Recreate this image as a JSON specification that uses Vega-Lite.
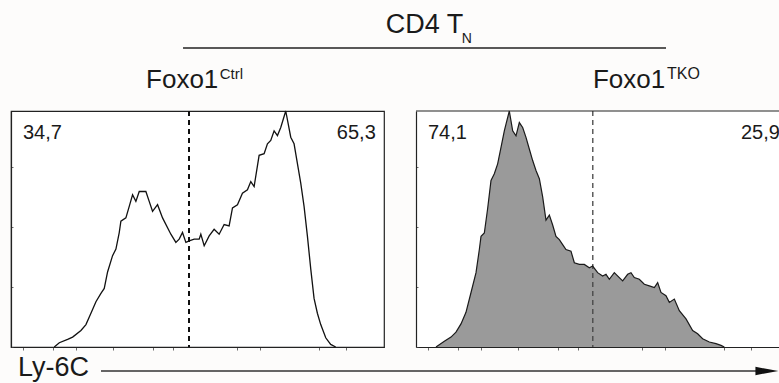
{
  "$schema": "https://vega.github.io/schema/vega-lite/v6.json",
  "background": "#fdfcfb",
  "padding": {"left": 10, "top": 0, "right": 0, "bottom": 0},
  "spacing": 0,
  "config": {"view": {"stroke": null}, "font": "Liberation Sans", "text": {"font": "Liberation Sans", "color": "#1a1a1a"}},
  "datasets": {
    "ctrl": [
      {"ly6c": 116, "count": 0}, {"ly6c": 129.5, "count": 1.8}, {"ly6c": 151.8, "count": 3.2}, {"ly6c": 165.2, "count": 4.2},
      {"ly6c": 187.5, "count": 7.0}, {"ly6c": 200.9, "count": 9.5}, {"ly6c": 214.3, "count": 14.3}, {"ly6c": 227.7, "count": 19.2},
      {"ly6c": 241.1, "count": 22.7}, {"ly6c": 250, "count": 24.8}, {"ly6c": 258.9, "count": 31.8}, {"ly6c": 272.3, "count": 38.7},
      {"ly6c": 281.3, "count": 41.5}, {"ly6c": 290.2, "count": 48.5}, {"ly6c": 294.6, "count": 53.3}, {"ly6c": 308, "count": 54.7},
      {"ly6c": 317, "count": 59.6}, {"ly6c": 325.9, "count": 64.5}, {"ly6c": 334.8, "count": 61.7}, {"ly6c": 343.8, "count": 65.9},
      {"ly6c": 361.6, "count": 65.9}, {"ly6c": 370.5, "count": 61.7}, {"ly6c": 379.5, "count": 57.5}, {"ly6c": 392.9, "count": 60.3},
      {"ly6c": 406.3, "count": 54.7}, {"ly6c": 428.6, "count": 47.8}, {"ly6c": 442, "count": 44.3}, {"ly6c": 450.9, "count": 45.7},
      {"ly6c": 459.8, "count": 48.5}, {"ly6c": 468.8, "count": 44.3}, {"ly6c": 477.7, "count": 45}, {"ly6c": 491.1, "count": 45.7},
      {"ly6c": 504.5, "count": 45.7}, {"ly6c": 508.9, "count": 47.8}, {"ly6c": 517.9, "count": 42.9}, {"ly6c": 531.3, "count": 47.1},
      {"ly6c": 544.6, "count": 49.9}, {"ly6c": 558, "count": 47.8}, {"ly6c": 571.4, "count": 51.9}, {"ly6c": 584.8, "count": 51.3},
      {"ly6c": 593.8, "count": 58.9}, {"ly6c": 607.1, "count": 60.3}, {"ly6c": 620.5, "count": 65.2}, {"ly6c": 633.9, "count": 66.6},
      {"ly6c": 642.9, "count": 70.1}, {"ly6c": 651.8, "count": 68}, {"ly6c": 665.2, "count": 81.2}, {"ly6c": 678.6, "count": 81.9},
      {"ly6c": 687.5, "count": 86.1}, {"ly6c": 696.4, "count": 87.5}, {"ly6c": 705.4, "count": 91.6}, {"ly6c": 714.3, "count": 89.6},
      {"ly6c": 723.2, "count": 93}, {"ly6c": 736.6, "count": 100}, {"ly6c": 750, "count": 88.9}, {"ly6c": 758.9, "count": 86.1},
      {"ly6c": 767.9, "count": 77.7}, {"ly6c": 776.8, "count": 69.4}, {"ly6c": 785.7, "count": 59.6}, {"ly6c": 794.6, "count": 47.1},
      {"ly6c": 803.6, "count": 33.1}, {"ly6c": 812.5, "count": 20.6}, {"ly6c": 821.4, "count": 14.3}, {"ly6c": 830.4, "count": 9.5},
      {"ly6c": 843.8, "count": 3.9}, {"ly6c": 857.1, "count": 1.1}, {"ly6c": 870.5, "count": 0}
    ],
    "tko": [
      {"ly6c": 53.6, "count": 0}, {"ly6c": 76, "count": 2.4}, {"ly6c": 93.8, "count": 4.2}, {"ly6c": 107.2, "count": 6.3},
      {"ly6c": 120.6, "count": 9.8}, {"ly6c": 134, "count": 14.7}, {"ly6c": 147.5, "count": 23.1}, {"ly6c": 160.9, "count": 31.5},
      {"ly6c": 169.8, "count": 41.3}, {"ly6c": 174.3, "count": 46.9}, {"ly6c": 183.2, "count": 48.3}, {"ly6c": 192.1, "count": 58.7},
      {"ly6c": 201.1, "count": 70.6}, {"ly6c": 210, "count": 73.4}, {"ly6c": 218.9, "count": 77.6}, {"ly6c": 227.9, "count": 84.6},
      {"ly6c": 236.8, "count": 91.6}, {"ly6c": 241.3, "count": 94.4}, {"ly6c": 250.2, "count": 100}, {"ly6c": 259.2, "count": 91.6},
      {"ly6c": 268.1, "count": 89.5}, {"ly6c": 277, "count": 95.1}, {"ly6c": 286, "count": 93}, {"ly6c": 294.9, "count": 88.8},
      {"ly6c": 303.8, "count": 83.9}, {"ly6c": 312.8, "count": 79}, {"ly6c": 321.7, "count": 74.8}, {"ly6c": 330.7, "count": 71.3},
      {"ly6c": 339.6, "count": 63.6}, {"ly6c": 348.5, "count": 53.8}, {"ly6c": 357.5, "count": 55.9}, {"ly6c": 366.4, "count": 51.7},
      {"ly6c": 375.3, "count": 46.9}, {"ly6c": 384.3, "count": 45.5}, {"ly6c": 393.2, "count": 43.4}, {"ly6c": 402.1, "count": 41.3},
      {"ly6c": 415.5, "count": 40.6}, {"ly6c": 424.5, "count": 35.7}, {"ly6c": 437.9, "count": 35}, {"ly6c": 451.3, "count": 35},
      {"ly6c": 464.7, "count": 33.6}, {"ly6c": 473.6, "count": 34.3}, {"ly6c": 487, "count": 31.5}, {"ly6c": 500.4, "count": 30.1},
      {"ly6c": 509.4, "count": 30.8}, {"ly6c": 518.3, "count": 28.7}, {"ly6c": 531.7, "count": 31.5}, {"ly6c": 545.1, "count": 29.4},
      {"ly6c": 554.1, "count": 28}, {"ly6c": 567.5, "count": 30.8}, {"ly6c": 576.4, "count": 31.5}, {"ly6c": 585.3, "count": 29.4},
      {"ly6c": 598.7, "count": 28.7}, {"ly6c": 612.2, "count": 26.6}, {"ly6c": 625.6, "count": 25.9}, {"ly6c": 639, "count": 25.2},
      {"ly6c": 647.9, "count": 27.3}, {"ly6c": 656.8, "count": 23.1}, {"ly6c": 670.2, "count": 21.7}, {"ly6c": 679.2, "count": 18.9},
      {"ly6c": 692.6, "count": 20.3}, {"ly6c": 706, "count": 15.4}, {"ly6c": 723.9, "count": 11.9}, {"ly6c": 741.7, "count": 7},
      {"ly6c": 755.1, "count": 5.6}, {"ly6c": 768.5, "count": 3.5}, {"ly6c": 786.4, "count": 2.1}, {"ly6c": 804.3, "count": 1.4},
      {"ly6c": 817.7, "count": 0.7}, {"ly6c": 826.6, "count": 0}
    ]
  },
  "vconcat": [
    {
      "width": 769,
      "height": 107,
      "data": {"values": [{}]},
      "layer": [
        {
          "mark": {"type": "text", "align": "right", "baseline": "alphabetic", "fontSize": 27},
          "encoding": {
            "x": {"datum": 0.588, "type": "quantitative", "scale": {"domain": [0, 1], "nice": false}, "axis": null},
            "y": {"datum": 0.692, "type": "quantitative", "scale": {"domain": [0, 1], "nice": false}, "axis": null},
            "text": {"value": "CD4 T"}
          }
        },
        {
          "mark": {"type": "text", "align": "left", "baseline": "alphabetic", "fontSize": 14},
          "encoding": {
            "x": {"datum": 0.586, "type": "quantitative", "axis": null},
            "y": {"datum": 0.598, "type": "quantitative", "axis": null},
            "text": {"value": "N"}
          }
        },
        {
          "mark": {"type": "rule", "color": "#222", "strokeWidth": 1.5},
          "encoding": {
            "x": {"datum": 0.2237, "type": "quantitative", "axis": null},
            "x2": {"datum": 0.8518},
            "y": {"datum": 0.551, "type": "quantitative", "axis": null}
          }
        },
        {
          "mark": {"type": "text", "align": "left", "baseline": "alphabetic", "fontSize": 26},
          "encoding": {
            "x": {"datum": 0.1756, "type": "quantitative", "axis": null},
            "y": {"datum": 0.1776, "type": "quantitative", "axis": null},
            "text": {"value": "Foxo1"}
          }
        },
        {
          "mark": {"type": "text", "align": "left", "baseline": "alphabetic", "fontSize": 15},
          "encoding": {
            "x": {"datum": 0.2715, "type": "quantitative", "axis": null},
            "y": {"datum": 0.262, "type": "quantitative", "axis": null},
            "text": {"value": "Ctrl"}
          }
        },
        {
          "mark": {"type": "text", "align": "left", "baseline": "alphabetic", "fontSize": 26},
          "encoding": {
            "x": {"datum": 0.7568, "type": "quantitative", "axis": null},
            "y": {"datum": 0.1776, "type": "quantitative", "axis": null},
            "text": {"value": "Foxo1"}
          }
        },
        {
          "mark": {"type": "text", "align": "left", "baseline": "alphabetic", "fontSize": 16},
          "encoding": {
            "x": {"datum": 0.853, "type": "quantitative", "axis": null},
            "y": {"datum": 0.262, "type": "quantitative", "axis": null},
            "text": {"value": "TKO"}
          }
        }
      ]
    },
    {
      "spacing": 32,
      "bounds": "flush",
      "hconcat": [
        {
          "width": 373,
          "height": 236,
          "view": {"fill": "white", "stroke": "#222", "strokeWidth": 1.2},
          "data": {"name": "ctrl"},
          "layer": [
            {
              "mark": {"type": "rule", "color": "#111", "strokeWidth": 1.2, "strokeDash": [5, 4]},
              "encoding": {
                "x": {"datum": 477, "type": "quantitative", "scale": {"domain": [0, 1000], "nice": false, "zero": false},
                  "axis": {"domain": true, "domainColor": "#222", "domainWidth": 1.2, "labels": false, "title": null, "grid": false, "ticks": true, "tickSize": 3, "tickColor": "#444", "tickWidth": 0.8,
                    "values": [32, 59, 75, 94, 113, 129, 142, 155, 174, 193, 209, 223, 273, 303, 330, 357, 381, 397, 410, 424, 434, 507, 550, 581, 605, 624, 640, 654, 667, 678, 751, 794, 825, 849, 868, 884, 898, 910, 917]}}
              }
            },
            {
              "mark": {"type": "line", "color": "#111", "strokeWidth": 1.3, "interpolate": "linear"},
              "encoding": {
                "x": {"field": "ly6c", "type": "quantitative"},
                "y": {"field": "count", "type": "quantitative", "scale": {"domain": [0, 100], "nice": false},
                  "axis": {"domain": true, "domainColor": "#222", "domainWidth": 1.2, "labels": false, "title": null, "grid": false, "ticks": true, "tickSize": -2, "tickColor": "#444", "tickWidth": 0.8,
                    "values": [0, 3.2, 6.4, 9.5, 12.7, 15.9, 19.1, 22.3, 25.4, 28.6, 31.8, 35, 38.2, 41.3, 44.5, 47.7, 50.9, 54.1, 57.2, 60.4, 63.6, 66.8, 70, 73.1, 76.3, 79.5, 82.7, 85.9, 89, 92.2, 95.4, 98.6]}}
              }
            },
            {
              "data": {"values": [{}]},
              "mark": {"type": "text", "align": "left", "baseline": "alphabetic", "fontSize": 20},
              "encoding": {"x": {"datum": 32, "type": "quantitative"}, "y": {"datum": 88.3, "type": "quantitative"}, "text": {"value": "34,7"}}
            },
            {
              "data": {"values": [{}]},
              "mark": {"type": "text", "align": "right", "baseline": "alphabetic", "fontSize": 20},
              "encoding": {"x": {"datum": 978, "type": "quantitative"}, "y": {"datum": 88.3, "type": "quantitative"}, "text": {"value": "65,3"}}
            }
          ]
        },
        {
          "width": 364,
          "height": 236,
          "view": {"fill": "white", "stroke": null},
          "data": {"name": "tko"},
          "layer": [
            {
              "mark": {"type": "area", "color": "#9a9a9a", "opacity": 1, "interpolate": "linear"},
              "encoding": {
                "x": {"field": "ly6c", "type": "quantitative", "scale": {"domain": [0, 975.9], "nice": false, "zero": false},
                  "axis": {"domain": true, "domainColor": "#222", "domainWidth": 1.2, "labels": false, "title": null, "grid": false, "ticks": true, "tickSize": 3, "tickColor": "#444", "tickWidth": 0.8,
                    "values": [32, 59, 75, 94, 113, 129, 142, 155, 174, 193, 209, 223, 273, 303, 330, 357, 381, 397, 410, 424, 434, 507, 550, 581, 605, 624, 640, 654, 667, 678, 751, 794, 825, 849, 868, 884, 898, 910, 917]}},
                "y": {"field": "count", "type": "quantitative", "scale": {"domain": [0, 100], "nice": false},
                  "axis": {"domain": true, "domainColor": "#222", "domainWidth": 1.2, "labels": false, "title": null, "grid": false, "ticks": true, "tickSize": -2, "tickColor": "#444", "tickWidth": 0.8,
                    "values": [0, 3.2, 6.4, 9.5, 12.7, 15.9, 19.1, 22.3, 25.4, 28.6, 31.8, 35, 38.2, 41.3, 44.5, 47.7, 50.9, 54.1, 57.2, 60.4, 63.6, 66.8, 70, 73.1, 76.3, 79.5, 82.7, 85.9, 89, 92.2, 95.4, 98.6]}}
              }
            },
            {
              "data": {"values": [{}]},
              "mark": {"type": "rule", "color": "#444", "strokeWidth": 1.3, "strokeDash": [5, 4]},
              "encoding": {"x": {"datum": 474, "type": "quantitative"}}
            },
            {
              "mark": {"type": "line", "color": "#1a1a1a", "strokeWidth": 1.2, "interpolate": "linear"},
              "encoding": {
                "x": {"field": "ly6c", "type": "quantitative"},
                "y": {"field": "count", "type": "quantitative"}
              }
            },
            {
              "data": {"values": [{}]},
              "mark": {"type": "rule", "color": "#222", "strokeWidth": 1.2},
              "encoding": {"y": {"datum": 100, "type": "quantitative"}}
            },
            {
              "data": {"values": [{}]},
              "mark": {"type": "text", "align": "left", "baseline": "alphabetic", "fontSize": 20},
              "encoding": {"x": {"datum": 32, "type": "quantitative"}, "y": {"datum": 88.3, "type": "quantitative"}, "text": {"value": "74,1"}}
            },
            {
              "data": {"values": [{}]},
              "mark": {"type": "text", "align": "right", "baseline": "alphabetic", "fontSize": 20},
              "encoding": {"x": {"datum": 975.5, "type": "quantitative"}, "y": {"datum": 88.3, "type": "quantitative"}, "text": {"value": "25,9"}}
            }
          ]
        }
      ]
    },
    {
      "width": 769,
      "height": 32,
      "data": {"values": [{}]},
      "layer": [
        {
          "mark": {"type": "text", "align": "left", "baseline": "alphabetic", "fontSize": 27},
          "encoding": {
            "x": {"datum": 0.0091, "type": "quantitative", "scale": {"domain": [0, 1], "nice": false}, "axis": null},
            "y": {"datum": 0.219, "type": "quantitative", "scale": {"domain": [0, 1], "nice": false}, "axis": null},
            "text": {"value": "Ly-6C"}
          }
        },
        {
          "mark": {"type": "rule", "color": "#333", "strokeWidth": 1.5},
          "encoding": {
            "x": {"datum": 0.117, "type": "quantitative", "axis": null},
            "x2": {"datum": 0.975},
            "y": {"datum": 0.375, "type": "quantitative", "axis": null}
          }
        },
        {
          "mark": {"type": "point", "shape": "M -1 -0.36 L 1 0 L -1 0.36 Z", "size": 529, "filled": true, "color": "#111", "opacity": 1},
          "encoding": {
            "x": {"datum": 0.983, "type": "quantitative", "axis": null},
            "y": {"datum": 0.375, "type": "quantitative", "axis": null}
          }
        }
      ]
    }
  ]
}
